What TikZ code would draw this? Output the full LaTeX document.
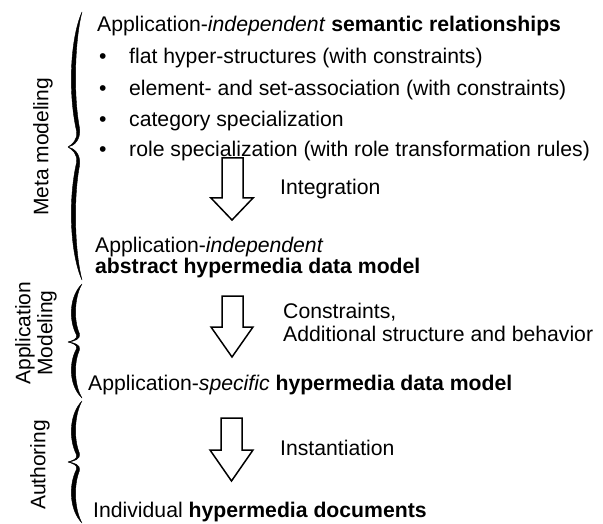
\documentclass[tikz,border=0pt]{standalone}
\usepackage{fontspec}
\setmainfont{Liberation Sans}
\tikzset{
  txt/.style={anchor=base west, inner sep=0pt, font=\fontsize{21.2}{24}\selectfont},
  side/.style={inner sep=0pt, rotate=90, align=center, font=\fontsize{21}{22}\selectfont},
  blockarrow/.style={draw=black, line width=1.5pt, fill=white, line join=miter},
  bracefill/.style={fill=black, draw=black, line width=0.4pt, line join=round}
}
% half of a wavy brace: #1 = right x, #2 = end y, #3 = tip y, #4 = tip x
\newcommand\myhalfbrace[4]{%
  \path[bracefill]
    (#1,#2) .. controls ({#1-12},{#2+0.2*(#3-#2)}) and ({#1-14},{#2+0.6*(#3-#2)}) ..
    ({#1-5.5},{#2+0.88*(#3-#2)}) .. controls ({#1-4},{#2+0.95*(#3-#2)}) and ({#4+4},{#3-0.02*(#3-#2)}) .. (#4,#3)
    .. controls ({#4+6},{#3-0.01*(#3-#2)}) and ({#1-1},{#2+0.95*(#3-#2)}) .. ({#1-2.5},{#2+0.86*(#3-#2)})
    .. controls ({#1-9},{#2+0.6*(#3-#2)}) and ({#1-7},{#2+0.2*(#3-#2)}) .. (#1,#2) -- cycle;%
}
\newcommand\mybrace[5]{% #1 right x, #2 top y, #3 tip y, #4 bottom y, #5 tip x
  \myhalfbrace{#1}{#2}{#3}{#5}\myhalfbrace{#1}{#4}{#3}{#5}%
}
\begin{document}
\begin{tikzpicture}[x=1pt,y=-1pt]
\useasboundingbox (0,0) rectangle (603,524);
\fill[white] (0,0) rectangle (603,524);

% braces
\mybrace{82}{12}{147}{280}{68}
\mybrace{82}{284}{342}{398}{68}
\mybrace{82}{401}{462}{523}{68}

% side labels
\node[side] (meta) at (43,147) {Meta modeling};
\node[side] (appmod) at (36,333) {Application\\Modeling};
\node[side] (auth) at (40,465) {Authoring};

% main texts
\node[txt] (t1) at (97,32) {Application-\textit{independent} \textbf{semantic relationships}};
\node[txt] (b1) at (99,64) {•};
\node[txt] (i1) at (129,64) {flat hyper-structures (with constraints)};
\node[txt] (b2) at (99,96) {•};
\node[txt] (i2) at (129,96) {element- and set-association (with constraints)};
\node[txt] (b3) at (99,127) {•};
\node[txt] (i3) at (129,127) {category specialization};
\node[txt] (b4) at (99,157) {•};
\node[txt] (i4) at (129,157) {role specialization (with role transformation rules)};

\node[txt] (integ) at (280,195) {Integration};
\node[txt] (t2a) at (95,252) {Application-\textit{independent}};
\node[txt] (t2b) at (95,273) {\textbf{abstract hypermedia data model}};

\node[txt] (c1) at (283,318) {Constraints,};
\node[txt] (c2) at (283,341) {Additional structure and behavior};
\node[txt] (t3) at (88,390) {Application-\textit{specific} \textbf{hypermedia data model}};

\node[txt] (inst) at (280,455) {Instantiation};
\node[txt] (t4) at (93,517) {Individual \textbf{hypermedia documents}};

% block arrows
\draw[blockarrow] (222,158) -- (243,158) -- (243,198) -- (253,198) -- (232,220) -- (211,198) -- (222,198) -- cycle;
\draw[blockarrow] (222,296) -- (243,296) -- (243,327) -- (253,327) -- (232,357) -- (211,327) -- (222,327) -- cycle;
\draw[blockarrow] (221,418) -- (242,418) -- (242,450) -- (253,450) -- (231.5,481) -- (210,450) -- (221,450) -- cycle;
\end{tikzpicture}
\end{document}
